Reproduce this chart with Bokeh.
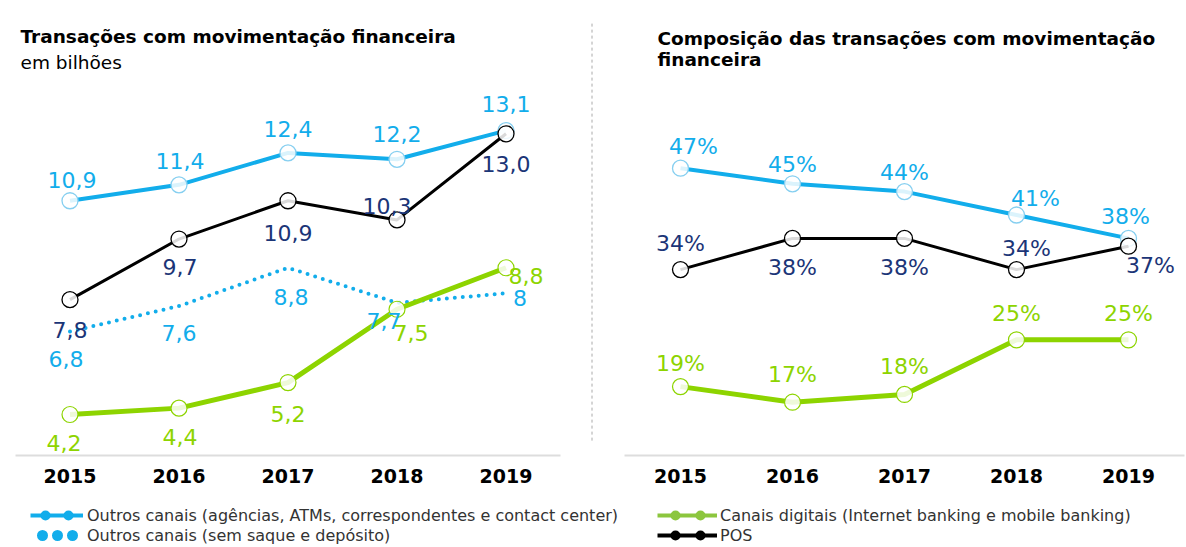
from bokeh.plotting import figure
from bokeh.models import ColumnDataSource, Range1d, Label, Legend, LegendItem, Arrow
from bokeh.layouts import row, column
from bokeh.core.properties import value
from bokeh.embed import file_html
from bokeh.resources import INLINE

# ---------------- data ----------------
years = ["2015", "2016", "2017", "2018", "2019"]

# left: em bilhões
outros_bi = [10.9, 11.4, 12.4, 12.2, 13.1]
outros_sem_saque_bi = [6.8, 7.6, 8.8, 7.7, 8]
digitais_bi = [4.2, 4.4, 5.2, 7.5, 8.8]
pos_bi = [7.8, 9.7, 10.9, 10.3, 13.0]

# right: composição (%)
outros_pct = [47, 45, 44, 41, 38]
digitais_pct = [19, 17, 18, 25, 25]
pos_pct = [34, 38, 38, 34, 37]

title_left = "Transações com movimentação financeira"
subtitle_left = "em bilhões"
title_right_1 = "Composição das transações com movimentação"
title_right_2 = "financeira"

legend_outros = "Outros canais (agências, ATMs, correspondentes e contact center)"
legend_outros_sem = "Outros canais (sem saque e depósito)"
legend_digitais = "Canais digitais (Internet banking e mobile banking)"
legend_pos = "POS"

# ---------------- styles ----------------
BLUE = "#12ADEB"
BLUE_M = "#86CFF0"
GREEN = "#8DD400"
GREEN_L = "#8CC63E"
BLACK = "#000000"
NAVY = "#1B3577"
FONT = "DejaVu Sans"
TOP_H = 492
LEG_H = 55
NAN = float("nan")


def fmt1(v):
    return f"{v:.1f}".replace(".", ",")


def fmtg(v):
    return f"{v:g}".replace(".", ",")


def fmtp(v):
    return f"{v}%"


# label offsets (pixels), placement only
off_outros_l = ([2, 1, 0, 0, 0], [-21, -24, -24, -25, -27])
off_sem_l = ([-4, 0, 3, -13, 14], [27, 27, 29, 18, 5])
off_dig_l = ([-6, 1, 0, 14, 20], [28, 29, 31, 24, 8])
off_pos_l = ([0, 1, 0, -10, 0], [30, 28, 32, -14, 30])

off_outros_r = ([13, 0, 0, 19, -3], [-22, -19, -19, -17, -22])
off_pos_r = ([0, 0, 0, 10, 22], [-26, 29, 29, -21, 19])
off_dig_r = ([0, 0, 0, 0, 0], [-23, -28, -28, -26, -26])


def base_fig(width, yr, bl, br):
    p = figure(width=width, height=TOP_H, x_range=years, y_range=yr,
               output_backend="svg", toolbar_location=None,
               y_axis_location=None, min_border_left=bl, min_border_right=br,
               min_border_top=0, min_border_bottom=TOP_H - 455)
    p.title = None
    p.outline_line_color = None
    p.xgrid.visible = False
    p.ygrid.visible = False
    ax = p.xaxis[0]
    ax.axis_line_color = "#DDDDDD"
    ax.axis_line_width = 2
    ax.major_tick_line_color = None
    ax.minor_tick_line_color = None
    ax.major_label_text_font = FONT
    ax.major_label_text_font_style = "bold"
    ax.major_label_text_font_size = "19px"
    ax.major_label_text_color = "#000000"
    ax.major_label_standoff = 7
    p.x_range.range_padding = 0
    return p


def blank_fig(width, height):
    p = figure(width=width, height=height, x_range=Range1d(0, 1), y_range=Range1d(0, 1),
               output_backend="svg", toolbar_location=None,
               x_axis_location=None, y_axis_location=None,
               min_border_left=0, min_border_right=0, min_border_top=0, min_border_bottom=0)
    p.title = None
    p.outline_line_color = None
    p.xgrid.visible = False
    p.ygrid.visible = False
    return p


def add_labels(p, vals, texts, offs, color):
    src = ColumnDataSource(dict(x=years, y=vals, t=texts, dx=offs[0], dy=offs[1]))
    p.text(x="x", y="y", text="t", x_offset="dx", y_offset="dy", source=src,
           text_align="center", text_baseline="middle", text_font=value(FONT),
           text_font_size="22px", text_color=color)


def add_series(p, vals, color, width, mcolor, mwidth, markers=True, dash="solid", cap="butt"):
    p.line(years, vals, line_color=color, line_width=width, line_dash=dash, line_cap=cap)
    if markers:
        p.scatter(years, vals, size=16, fill_color="white", fill_alpha=0.85,
                  line_color=mcolor, line_width=mwidth)


def title_label(p, x, y, text, style):
    p.add_layout(Label(x=x, y=y, x_units="screen", y_units="screen", text=text,
                       text_font=FONT, text_font_style=style, text_font_size="18.5px",
                       text_baseline="middle", text_color="#000000"))


# ---------------- left chart ----------------
p1 = base_fig(585, Range1d(2.915, 17.178), 15, 25)
add_series(p1, outros_sem_saque_bi, BLUE, 4, None, 0, markers=False, dash="0 8", cap="round")
add_series(p1, outros_bi, BLUE, 4, BLUE_M, 1.3)
add_series(p1, digitais_bi, GREEN, 5, GREEN, 1.2)
add_series(p1, pos_bi, BLACK, 3, BLACK, 1.3)

add_labels(p1, outros_bi, [fmt1(v) for v in outros_bi], off_outros_l, BLUE)
add_labels(p1, outros_sem_saque_bi, [fmtg(v) for v in outros_sem_saque_bi], off_sem_l, BLUE)
add_labels(p1, digitais_bi, [fmt1(v) for v in digitais_bi], off_dig_l, GREEN)
add_labels(p1, pos_bi, [fmt1(v) for v in pos_bi], off_pos_l, NAVY)

title_label(p1, 5, 419, title_left, "bold")
title_label(p1, 5, 393, subtitle_left, "normal")

# ---------------- divider ----------------
pdiv = blank_fig(15, TOP_H)
pdiv.x_range = Range1d(0, 15)
pdiv.y_range = Range1d(TOP_H, 0)
pdiv.add_layout(Arrow(end=None, x_start=6.5, y_start=25, x_end=6.5, y_end=478,
                      line_color="#AAAAAA", line_width=1, line_dash="3 3"))

# ---------------- right chart ----------------
p2 = base_fig(586, Range1d(10.17, 68.5), 24, 2)
add_series(p2, outros_pct, BLUE, 4, BLUE_M, 1.3)
add_series(p2, digitais_pct, GREEN, 5, GREEN, 1.2)
add_series(p2, pos_pct, BLACK, 3, BLACK, 1.3)

add_labels(p2, outros_pct, [fmtp(v) for v in outros_pct], off_outros_r, BLUE)
add_labels(p2, pos_pct, [fmtp(v) for v in pos_pct], off_pos_r, NAVY)
add_labels(p2, digitais_pct, [fmtp(v) for v in digitais_pct], off_dig_r, GREEN)

title_label(p2, 33, 417, title_right_1, "bold")
title_label(p2, 33, 396, title_right_2, "bold")


# ---------------- legends ----------------
def legend_fig(width, items_spec, vx, glyph_w, standoff):
    f = blank_fig(width, LEG_H)
    items = []
    for label, parts in items_spec:
        # legend-only renderers: a single NaN point, nothing is drawn in the frame
        rs = [f.line([NAN], [NAN], **kw) for kw in parts]
        items.append(LegendItem(label=label, renderers=rs))
    leg = Legend(items=items, location=(vx, 2), orientation="vertical",
                 glyph_width=glyph_w, glyph_height=20, label_height=20, spacing=0,
                 padding=0, margin=0, border_line_color=None, background_fill_alpha=0,
                 label_text_font=FONT, label_text_font_size="16px",
                 label_text_color="#333333", label_standoff=standoff,
                 label_text_baseline="middle")
    f.add_layout(leg)
    return f


lf1 = legend_fig(640, [
    (legend_outros, [dict(line_color=BLUE, line_width=4),
                     dict(line_color=BLUE, line_width=10, line_dash="0 23",
                          line_dash_offset=8, line_cap="round")]),
    (legend_outros_sem, [dict(line_color=BLUE, line_width=11, line_dash="0 15",
                              line_dash_offset=3, line_cap="round")]),
], 30, 53, 4)

lf2 = legend_fig(546, [
    (legend_digitais, [dict(line_color=GREEN_L, line_width=4),
                       dict(line_color=GREEN_L, line_width=10, line_dash="0 25",
                            line_dash_offset=7, line_cap="round")]),
    (legend_pos, [dict(line_color=BLACK, line_width=4),
                  dict(line_color=BLACK, line_width=10, line_dash="0 25",
                       line_dash_offset=7, line_cap="round")]),
], 17, 60, 3)

layout = column(row(p1, pdiv, p2), row(lf1, lf2))
open("out.html", "w").write(file_html(layout, INLINE))
